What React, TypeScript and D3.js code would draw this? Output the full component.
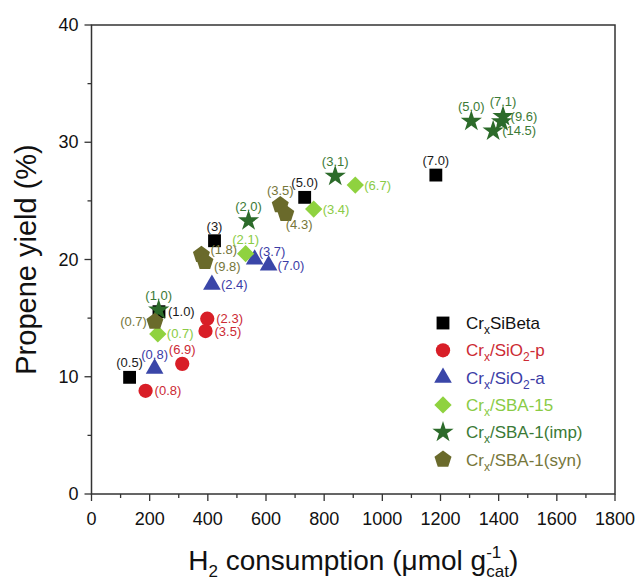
import * as d3 from "d3";

// ---- data ----
const betaX = [131, 232, 423, 733, 1184];
const betaY = [9.95, 15.55, 21.6, 25.3, 27.2];
const betaLabels = ["(0.5)", "(1.0)", "(3)", "(5.0)", "(7.0)"];
const betaPos = ["t", "r", "t", "t", "t"];

const sio2pX = [186, 312, 398, 392];
const sio2pY = [8.8, 11.1, 14.95, 13.9];
const sio2pLabels = ["(0.8)", "(6.9)", "(2.3)", "(3.5)"];
const sio2pPos = ["r", "t", "r", "r"];

const sio2aX = [217, 414, 561, 609];
const sio2aY = [10.7, 17.85, 20.0, 19.5];
const sio2aLabels = ["(0.8)", "(2.4)", "(3.7)", "(7.0)"];
const sio2aPos = ["t", "r", "tr", "r"];

const sba15X = [228, 530, 764, 907];
const sba15Y = [13.65, 20.5, 24.3, 26.35];
const sba15Labels = ["(0.7)", "(2.1)", "(3.4)", "(6.7)"];
const sba15Pos = ["r", "t", "r", "r"];

const impX = [231, 540, 838, 1306, 1415, 1410, 1381];
const impY = [15.7, 23.3, 27.1, 31.8, 32.2, 31.75, 30.96];
const impLabels = ["(1.0)", "(2.0)", "(3.1)", "(5.0)", "(7.1)", "(9.6)", "(14.5)"];
const impPos = ["t", "t", "t", "t", "t", "ru", "r"];

const synX = [218, 378, 390, 649, 668];
const synY = [14.7, 20.4, 19.8, 24.65, 23.9];
const synLabels = ["(0.7)", "(1.8)", "(9.8)", "(3.5)", "(4.3)"];
const synPos = ["l", "ru", "rd", "t", "br"];

const xTicks = d3.range(0, 1801, 100);
const yTicks = d3.range(0, 41, 5);

// pentagon isn't in d3's symbol set
const symbolPentagon = {
  draw(ctx: any, size: number) {
    const r = Math.sqrt(size / 2.378);
    for (let i = 0; i < 5; i++) {
      const a = -Math.PI / 2 + (i * 2 * Math.PI) / 5;
      const px = r * Math.cos(a);
      const py = r * Math.sin(a);
      if (i === 0) ctx.moveTo(px, py);
      else ctx.lineTo(px, py);
    }
    ctx.closePath();
  },
};

const series = [
  { name: ["Cr", "x", "SiBeta"], xs: betaX, ys: betaY, labels: betaLabels, pos: betaPos, fill: "#000000", text: "#1a1a1a", type: d3.symbolSquare, size: 165, rot: 0 },
  { name: ["Cr", "x", "/SiO", "2", "-p"], xs: sio2pX, ys: sio2pY, labels: sio2pLabels, pos: sio2pPos, fill: "#d81e27", text: "#cc2a34", type: d3.symbolCircle, size: 160, rot: 0 },
  { name: ["Cr", "x", "/SiO", "2", "-a"], xs: sio2aX, ys: sio2aY, labels: sio2aLabels, pos: sio2aPos, fill: "#3a46a8", text: "#3b3ca6", type: d3.symbolTriangle, size: 135, rot: 0 },
  { name: ["Cr", "x", "/SBA-15"], xs: sba15X, ys: sba15Y, labels: sba15Labels, pos: sba15Pos, fill: "#8fd23f", text: "#8acb45", type: d3.symbolSquare, size: 150, rot: 45 },
  { name: ["Cr", "x", "/SBA-1(imp)"], xs: impX, ys: impY, labels: impLabels, pos: impPos, fill: "#2c6b2a", text: "#3b7a36", type: d3.symbolStar, size: 140, rot: 0 },
  { name: ["Cr", "x", "/SBA-1(syn)"], xs: synX, ys: synY, labels: synLabels, pos: synPos, fill: "#6a6a2b", text: "#76763a", type: symbolPentagon, size: 190, rot: 0 },
];

const W = 638;
const H = 585;
const m = { left: 91.5, right: 615, top: 25, bottom: 494 };
const font = "'Liberation Sans', Arial, sans-serif";

function labelProps(pos: string, x: number, y: number) {
  switch (pos) {
    case "t":
      return { x, y: y - 10, anchor: "middle" };
    case "r":
      return { x: x + 9, y: y + 4.5, anchor: "start" };
    case "ru":
      return { x: x + 9, y: y - 1, anchor: "start" };
    case "rd":
      return { x: x + 9, y: y + 9, anchor: "start" };
    case "l":
      return { x: x - 8, y: y + 4.5, anchor: "end" };
    case "tr":
      return { x: x + 4, y: y - 4, anchor: "start" };
    case "br":
      return { x: x, y: y + 15, anchor: "start" };
    default:
      return { x, y, anchor: "middle" };
  }
}

function Name({ parts, x, y, fill }: { parts: string[]; x: number; y: number; fill: string }) {
  // alternate normal / subscript pieces
  return (
    <text x={x} y={y} fill={fill} fontSize={17} fontFamily={font}>
      {parts.map((p, i) =>
        i % 2 === 1 ? (
          <tspan key={i} fontSize={12} dy={5}>
            {p}
          </tspan>
        ) : (
          <tspan key={i} dy={i === 0 ? 0 : -5}>
            {p}
          </tspan>
        )
      )}
    </text>
  );
}

export default function App() {
  const x = d3.scaleLinear().domain([0, 1800]).range([m.left, m.right]);
  const y = d3.scaleLinear().domain([0, 40]).range([m.bottom, m.top]);

  return (
    <svg
      width={W}
      height={H}
      style={{ position: "absolute", left: 0, top: 0, background: "#fff" }}
      fontFamily={font}
    >
      {/* frame */}
      <rect
        x={m.left}
        y={m.top}
        width={m.right - m.left}
        height={m.bottom - m.top}
        fill="none"
        stroke="#333"
        strokeWidth={1.5}
      />

      {/* x axis */}
      {xTicks.map((t) => {
        const major = t % 200 === 0;
        return (
          <g key={"x" + t}>
            <line x1={x(t)} x2={x(t)} y1={m.bottom} y2={m.bottom + (major ? 7 : 4)} stroke="#333" strokeWidth={1.3} />
            {major && (
              <text x={x(t)} y={m.bottom + 31} textAnchor="middle" fontSize={18} fill="#111">
                {t}
              </text>
            )}
          </g>
        );
      })}

      {/* y axis */}
      {yTicks.map((t) => {
        const major = t % 10 === 0;
        return (
          <g key={"y" + t}>
            <line x1={m.left} x2={m.left - (major ? 7 : 4)} y1={y(t)} y2={y(t)} stroke="#333" strokeWidth={1.3} />
            {major && (
              <text x={m.left - 13} y={y(t) + 6} textAnchor="end" fontSize={18} fill="#111">
                {t}
              </text>
            )}
          </g>
        );
      })}

      {/* axis titles */}
      <text
        transform={`translate(36,${(m.top + m.bottom) / 2}) rotate(-90)`}
        textAnchor="middle"
        fontSize={29}
        fill="#111"
      >
        Propene yield (%)
      </text>
      <text x={(m.left + m.right) / 2} y={570} textAnchor="middle" fontSize={28} fill="#111">
        H<tspan fontSize={17} dy={7}>2</tspan>
        <tspan dy={-7}> consumption (μmol g</tspan>
        <tspan fontSize={17} dy={-12}>-1</tspan>
        <tspan fontSize={17} dx={-15} dy={19}>cat</tspan>
        <tspan dy={-7}>)</tspan>
      </text>

      {/* points */}
      {series.map((s, si) => {
        const path = d3.symbol(s.type as any, s.size)();
        return (
          <g key={"s" + si}>
            {s.xs.map((xv, i) => (
              <path
                key={i}
                d={path ?? ""}
                fill={s.fill}
                transform={`translate(${x(xv)},${y(s.ys[i])}) rotate(${s.rot})`}
              />
            ))}
          </g>
        );
      })}

      {/* point labels */}
      {series.map((s, si) => (
        <g key={"l" + si}>
          {s.xs.map((xv, i) => {
            const lp = labelProps(s.pos[i], x(xv), y(s.ys[i]));
            return (
              <text key={i} x={lp.x} y={lp.y} textAnchor={lp.anchor} fontSize={13} fill={s.text}>
                {s.labels[i]}
              </text>
            );
          })}
        </g>
      ))}

      {/* legend */}
      {series.map((s, si) => {
        const ly = 323 + si * 27.3;
        const path = d3.symbol(s.type as any, s.size)();
        return (
          <g key={"g" + si}>
            <path d={path ?? ""} fill={s.fill} transform={`translate(443,${ly}) rotate(${s.rot})`} />
            <Name parts={s.name} x={466} y={ly + 6} fill={s.text === "#1a1a1a" ? "#111" : s.text} />
          </g>
        );
      })}
    </svg>
  );
}
